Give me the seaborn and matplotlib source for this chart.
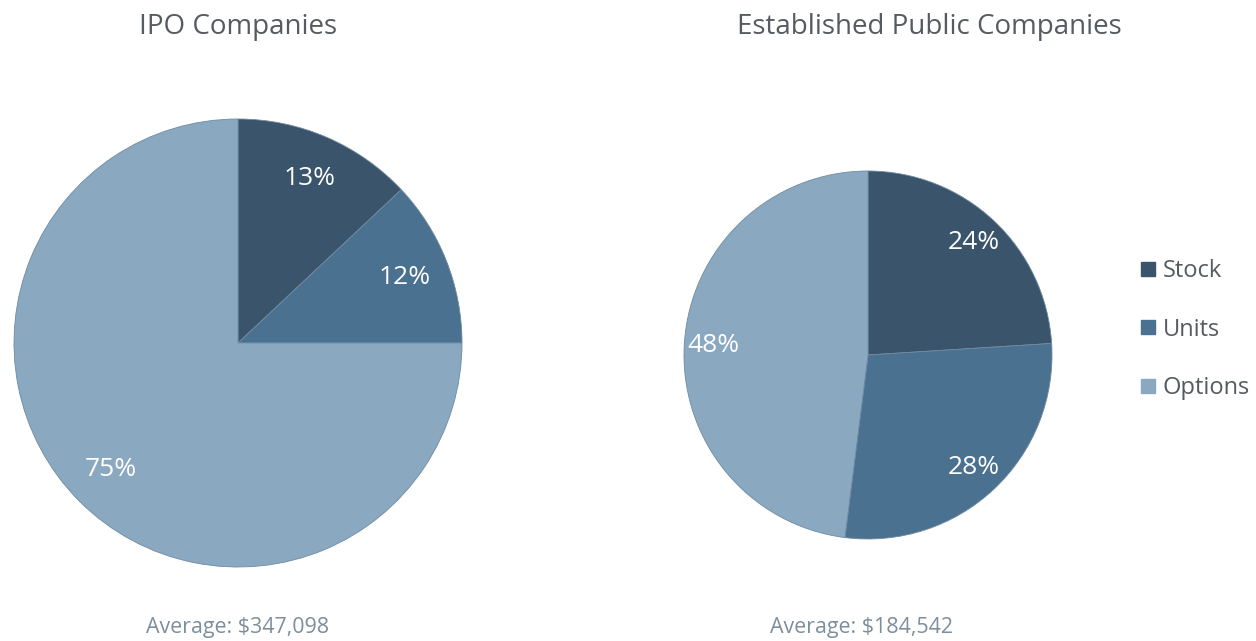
import matplotlib
matplotlib.use("Agg")
import matplotlib.pyplot as plt
import seaborn as sns
from matplotlib.lines import Line2D

sns.set_theme(style="white")
plt.rcParams["font.family"] = ["Open Sans", "DejaVu Sans"]

categories = ["Stock", "Units", "Options"]
ipo_shares = [13, 12, 75]
established_shares = [24, 28, 48]
titles = ["IPO Companies", "Established Public Companies"]
averages = ["Average: $347,098", "Average: $184,542"]

palette = ["#3a546b", "#4b7190", "#8aa9c1"]

W, H = 1256, 641
fig = plt.figure(figsize=(W / 100, H / 100), dpi=100)


def pie_axes(cx, cy, r):
    # cx, cy, r in pixels measured from the top-left corner
    ax = fig.add_axes([(cx - r) / W, (H - cy - r) / H, 2 * r / W, 2 * r / H])
    ax.set_xlim(-1, 1)
    ax.set_ylim(-1, 1)
    ax.set_aspect("equal")
    ax.axis("off")
    return ax


def draw_pie(ax, values, pctdist):
    wedges, texts, autotexts = ax.pie(
        values,
        colors=palette,
        startangle=90,
        counterclock=False,
        radius=1,
        pctdistance=pctdist,
        autopct=lambda p: f"{p:.0f}%",
        wedgeprops=dict(linewidth=0.6, edgecolor="#6f8aa0"),
        textprops=dict(color="white", fontsize=19),
    )
    ax.set_xlim(-1, 1)
    ax.set_ylim(-1, 1)
    return wedges


ax1 = pie_axes(238, 343, 224)
draw_pie(ax1, ipo_shares, 0.8)

ax2 = pie_axes(868, 355, 184)
draw_pie(ax2, established_shares, 0.84)

title_color = "#555b60"
avg_color = "#7d8e9c"
fig.text(238 / W, 1 - 27 / H, titles[0], ha="center", va="center",
         fontsize=20, color=title_color)
fig.text(929 / W, 1 - 27 / H, titles[1], ha="center", va="center",
         fontsize=20, color=title_color)
fig.text(238 / W, 1 - 627 / H, averages[0], ha="center", va="center",
         fontsize=15.4, color=avg_color)
fig.text(862 / W, 1 - 627 / H, averages[1], ha="center", va="center",
         fontsize=15.4, color=avg_color)

handles = [Line2D([0], [0], marker="s", linestyle="none", markersize=10,
                  markerfacecolor=c, markeredgecolor=c) for c in palette]
leg = fig.legend(handles, categories, loc="upper left",
                 bbox_to_anchor=(1127 / W, 1 - 250 / H),
                 frameon=False, fontsize=17, handletextpad=0.1,
                 labelspacing=1.45, handlelength=1.0, borderaxespad=0)
for t in leg.get_texts():
    t.set_color("#555b60")

fig.savefig("out.png", dpi=100, facecolor="white")
